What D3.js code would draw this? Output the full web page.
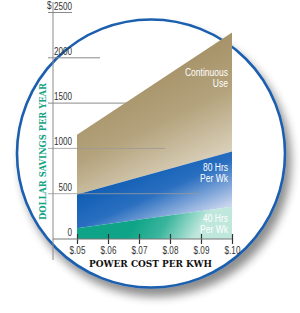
<!DOCTYPE html>
<html><head><meta charset="utf-8">
<script src="https://cdn.jsdelivr.net/npm/d3@7"></script>
<style>html,body{margin:0;padding:0;background:#fff;}svg{display:block;}</style>
</head><body>
<script>
// ---- data ----
const costs = [0.05, 0.10];
const continuousUse = [1150, 2280];
const hrs80 = [490, 965];
const hrs40 = [120, 355];
const xTickValues = [0.05, 0.06, 0.07, 0.08, 0.09, 0.10];
const xTickLabels = ["$.05", "$.06", "$.07", "$.08", "$.09", "$.10"];
const yTickValues = [0, 500, 1000, 1500, 2000, 2500];
const yTickLabels = ["0", "500", "1000", "1500", "2000", "2500"];
const seriesNames = [["Continuous", "Use"], ["80 Hrs", "Per Wk"], ["40 Hrs", "Per Wk"]];

const W = 300, H = 313;
const FONT = "'Liberation Sans',Arial,sans-serif";
const SQ = "scale(0.74,1)";
const svg = d3.select("body").append("svg").attr("width", W).attr("height", H);
const defs = svg.append("defs");

const x = d3.scaleLinear().domain([0.05, 0.10]).range([77, 232]);
const y = d3.scaleLinear().domain([0, 2500]).range([239, 12.5]);

// shadow filter
const f = defs.append("filter").attr("id", "sh").attr("x", "-20%").attr("y", "-20%").attr("width", "150%").attr("height", "150%");
f.append("feGaussianBlur").attr("in", "SourceAlpha").attr("stdDeviation", 5).attr("result", "b");
f.append("feOffset").attr("in", "b").attr("dx", 5).attr("dy", 8).attr("result", "o");
f.append("feComponentTransfer").attr("in", "o").attr("result", "o2")
  .append("feFuncA").attr("type", "linear").attr("slope", 0.45);
const m = f.append("feMerge");
m.append("feMergeNode").attr("in", "o2");
m.append("feMergeNode").attr("in", "SourceGraphic");

function grad(id, x1, y1, x2, y2, stops) {
  const g = defs.append("linearGradient").attr("id", id).attr("gradientUnits", "userSpaceOnUse")
    .attr("x1", x1).attr("y1", y1).attr("x2", x2).attr("y2", y2);
  stops.forEach(s => g.append("stop").attr("offset", s[0]).attr("stop-color", s[1]));
}
grad("gTan", 120, 60, 190, 205, [[0, "#a08b60"], [0.45, "#b3a27b"], [1, "#efe9dc"]]);
grad("gBlue", 140, 165, 170, 232, [[0, "#0e5db3"], [0.45, "#2a6fc0"], [1, "#c9d5ee"]]);
grad("gTeal", 140, 215, 190, 245, [[0, "#0fa487"], [0.45, "#3ab59d"], [1, "#bfe7dc"]]);

// circle
svg.append("circle").attr("cx", 151).attr("cy", 153.5).attr("r", 134)
  .attr("fill", "#fff").attr("stroke", "#1c5fae").attr("stroke-width", 2.6)
  .attr("filter", "url(#sh)");

// background gridline (behind area)
svg.append("line").attr("x1", 48).attr("x2", 160).attr("y1", y(1500)).attr("y2", y(1500))
  .attr("stroke", "#8a8a8a").attr("stroke-width", 1);

// areas
const area = (top, bottom) => d3.area()
  .x((d, i) => x(costs[i])).y1((d, i) => y(top[i])).y0((d, i) => bottom ? y(bottom[i]) : y(0))(costs);
svg.append("path").attr("d", area(continuousUse, hrs80)).attr("fill", "url(#gTan)");
svg.append("path").attr("d", area(hrs80, hrs40)).attr("fill", "url(#gBlue)");
svg.append("path").attr("d", area(hrs40, null)).attr("fill", "url(#gTeal)");

// foreground gridlines
const gridEnds = {2500: 72, 2000: 100, 1000: 165, 500: 199};
Object.keys(gridEnds).forEach(k => {
  svg.append("line").attr("x1", 48).attr("x2", gridEnds[k]).attr("y1", y(+k)).attr("y2", y(+k))
    .attr("stroke", +k >= 2000 ? "#8a8a8a" : "#9a9a9a").attr("stroke-width", 1)
    .attr("opacity", +k >= 2000 ? 1 : 0.8);
});

// y axis line
svg.append("line").attr("x1", 53).attr("x2", 53).attr("y1", 2).attr("y2", 260)
  .attr("stroke", "#8a8a8a").attr("stroke-width", 1);
// x axis via d3
const xAxis = d3.axisBottom(x).tickValues(xTickValues).tickFormat((d, i) => xTickLabels[i]).tickSize(0);
const xg = svg.append("g").attr("transform", `translate(0,${y(0)})`).call(xAxis);
xg.select(".domain").remove();
xg.selectAll("text").attr("dy", 0).attr("y", 15).attr("fill", "#333").attr("transform", SQ)
  .style("font-family", FONT).style("font-size", "11px");
svg.append("line").attr("x1", 53).attr("x2", 232).attr("y1", y(0)).attr("y2", y(0))
  .attr("stroke", "#777").attr("stroke-width", 1);
xg.selectAll(".tick").append("line").attr("y1", -5).attr("y2", 5).attr("stroke", "#333").attr("stroke-width", 1.2);

// y tick labels
const yAxis = d3.axisRight(y).tickValues(yTickValues).tickFormat((d, i) => yTickLabels[i]).tickSize(0);
const yg = svg.append("g").attr("transform", "translate(72,0)").call(yAxis);
yg.select(".domain").remove();
yg.selectAll("text").attr("x", 0).attr("dy", -3.5).attr("text-anchor", "end").attr("fill", "#333")
  .attr("transform", SQ).style("font-family", FONT).style("font-size", "11px");
svg.append("text").attr("transform", `translate(47,${y(2500) - 3.5}) ${SQ}`).text("$").attr("fill", "#333")
  .style("font-family", FONT).style("font-size", "11px");

// series labels
const labelPos = [[72, 83], [167, 178], [218, 229]];
labelPos.forEach((p, i) => {
  const t = svg.append("text").attr("text-anchor", "end").attr("fill", "#fff")
    .attr("transform", `translate(228,0) ${SQ}`)
    .style("font-family", FONT).style("font-size", "11.5px");
  t.append("tspan").attr("x", 0).attr("y", p[0] + 4).text(seriesNames[i][0]);
  t.append("tspan").attr("x", 0).attr("y", p[1] + 4).text(seriesNames[i][1]);
});

// axis titles
svg.append("text").attr("transform", "translate(45.5,151.5) rotate(-90)").attr("text-anchor", "middle")
  .attr("fill", "#14a385").attr("font-weight", "bold")
  .style("font-family", "'DejaVu Serif',serif").style("font-size", "9.5px")
  .attr("textLength", 137).attr("lengthAdjust", "spacingAndGlyphs")
  .text("DOLLAR SAVINGS PER YEAR");
svg.append("text").attr("x", 150.5).attr("y", 267).attr("text-anchor", "middle")
  .attr("fill", "#111").attr("font-weight", "bold")
  .style("font-family", "'DejaVu Serif',serif").style("font-size", "10px")
  .attr("textLength", 123).attr("lengthAdjust", "spacingAndGlyphs")
  .text("POWER COST PER KWH");
</script>
</body></html>
